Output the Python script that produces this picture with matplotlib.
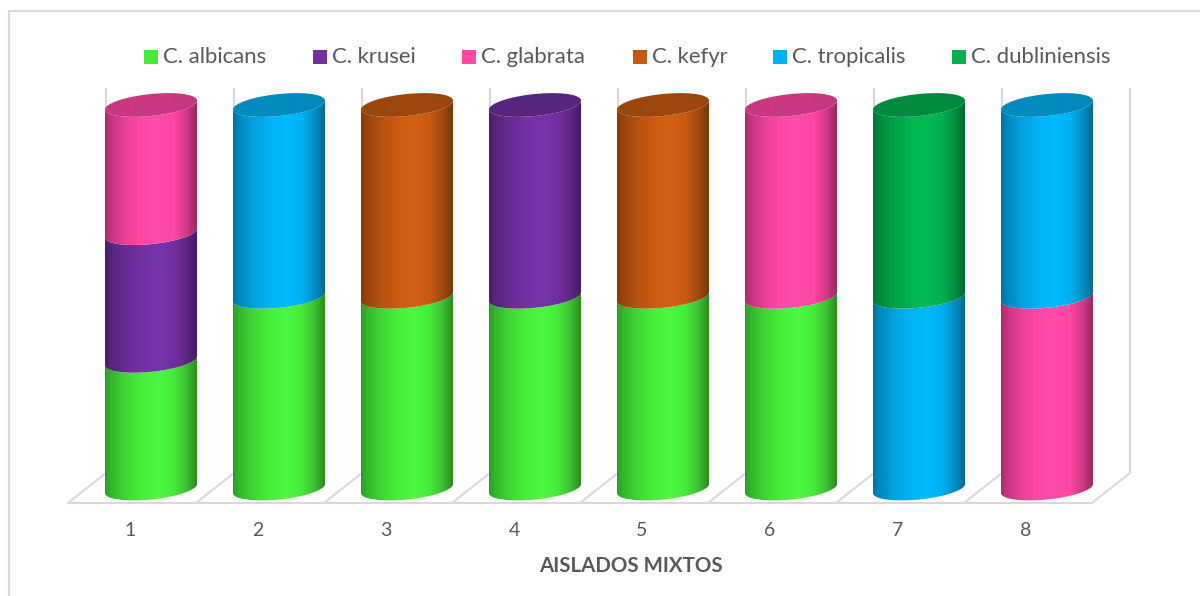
import matplotlib
matplotlib.use("Agg")
import matplotlib.pyplot as plt
from matplotlib.patches import Polygon, Rectangle
from matplotlib.colors import to_rgb
import numpy as np

plt.rcParams['font.family'] = ['Lato', 'DejaVu Sans']

categories = [1, 2, 3, 4, 5, 6, 7, 8]
species = ["C. albicans", "C. krusei", "C. glabrata", "C. kefyr", "C. tropicalis", "C. dubliniensis"]
colors = ["#47EA3B", "#7030A0", "#FF47A3", "#C55A11", "#00B0F0", "#00B050"]

albicans = [33.3, 50, 50, 50, 50, 50, 0, 0]
krusei = [33.3, 0, 0, 50, 0, 0, 0, 0]
glabrata = [33.4, 0, 0, 0, 0, 50, 0, 50]
kefyr = [0, 0, 50, 0, 50, 0, 0, 0]
tropicalis = [0, 50, 0, 0, 0, 0, 50, 50]
dubliniensis = [0, 0, 0, 0, 0, 0, 50, 0]
series = [albicans, krusei, glabrata, kefyr, tropicalis, dubliniensis]

W, H = 1200, 596
GRID = "#D9D9D9"
TEXT = "#595959"

# pixel scale of the bar axes
x_first, x_step = 151.0, 128.0
y_zero, y_full = 488.5, 105.0
px_per_pct = (y_zero - y_full) / 100.0

half_w = 46.0 / x_step
rise = 11.0 / px_per_pct     # ellipse half height
tilt = 4.5 / px_per_pct      # right side sits higher than left

# shading across a cylinder, left edge to right edge
shade_pos = [0.0, 0.06, 0.2, 0.42, 0.6, 0.75, 0.9, 1.0]
shade_val = [0.66, 0.76, 0.9, 1.03, 1.06, 1.0, 0.8, 0.6]

fig = plt.figure(figsize=(W / 100, H / 100), dpi=100, facecolor="white")

# background layer in pixels: frame, floor, wall, legend and labels
bg = fig.add_axes([0, 0, 1, 1], zorder=0)
bg.set_xlim(0, W)
bg.set_ylim(H, 0)
bg.axis("off")

bg.plot([8.5, 8.5, W], [H, 10.5, 10.5], color=GRID, lw=1.6)

floor_y, back_y, wall_top = 503, 473, 89
n = len(categories)
bg.plot([68, 68 + n * x_step], [floor_y, floor_y], color=GRID, lw=1.5)
for k in range(n + 1):
    x0 = 68 + k * x_step
    bg.plot([x0, x0 + 38, x0 + 38], [floor_y, back_y, wall_top], color=GRID, lw=1.5)

for k, c in enumerate(categories):
    bg.text(130 + k * x_step, 531, str(c), ha="center", va="center", fontsize=14, color=TEXT)

bg.text(630.5, 566, "AISLADOS MIXTOS", ha="center", va="center", fontsize=14.8,
        fontweight="bold", color=TEXT)

legend_x = [144, 313, 462, 633, 773, 952]
for x0, name, col in zip(legend_x, species, colors):
    bg.add_patch(Rectangle((x0, 50), 14, 14, facecolor=col, edgecolor="none"))
    bg.text(x0 + 19, 57, name, ha="left", va="center", fontsize=15.9, color=TEXT)

# bars layer in data units: category on x, percent on y
ax = fig.add_axes([0, 0, 1, 1], zorder=1)
ax.patch.set_alpha(0)
ax.axis("off")


def ellipse_pts(cx, level, t):
    return cx + half_w * np.cos(t), level + rise * np.sin(t) + tilt * np.cos(t)


def shaded_image(col, top, bottom, cx, clip, factor=1.0, pos=shade_pos, val=shade_val):
    u = np.linspace(0, 1, 200)
    s = np.interp(u, pos, val) * factor
    rgb = np.clip(np.outer(s, to_rgb(col)), 0, 1)[np.newaxis, :, :]
    im = ax.imshow(rgb, extent=(cx - half_w, cx + half_w, bottom, top), aspect="auto",
                   interpolation="bilinear", zorder=2)
    im.set_clip_path(clip)


front = np.linspace(np.pi, 2 * np.pi, 60)
whole = np.linspace(0, 2 * np.pi, 120)

for i, cat in enumerate(categories):
    base = 0.0
    for vals, col in zip(series, colors):
        v = vals[i]
        if v == 0:
            continue
        top = base + v
        xl, yl = ellipse_pts(cat, base, front)
        xu, yu = ellipse_pts(cat, top, front)
        pts = np.column_stack([np.r_[xl, xu[::-1]], np.r_[yl, yu[::-1]]])
        poly = Polygon(pts, closed=True, transform=ax.transData, facecolor="none", edgecolor="none")
        ax.add_patch(poly)
        shaded_image(col, top + rise + tilt, base - rise - tilt, cat, poly)
        base = top
        last_col = col
    # darker lid on the top of the stack
    xc, yc = ellipse_pts(cat, base, whole)
    lid = Polygon(np.column_stack([xc, yc]), closed=True, transform=ax.transData,
                  facecolor="none", edgecolor="none")
    ax.add_patch(lid)
    shaded_image(last_col, base + rise + tilt, base - rise - tilt, cat, lid, factor=0.8,
                 pos=[0, 0.5, 1], val=[0.97, 1.0, 0.97])

ax.set_xlim(1 - x_first / x_step, 1 + (W - x_first) / x_step)
ax.set_ylim((y_zero - H) / px_per_pct, y_zero / px_per_pct)

fig.savefig("out.png", dpi=100)
